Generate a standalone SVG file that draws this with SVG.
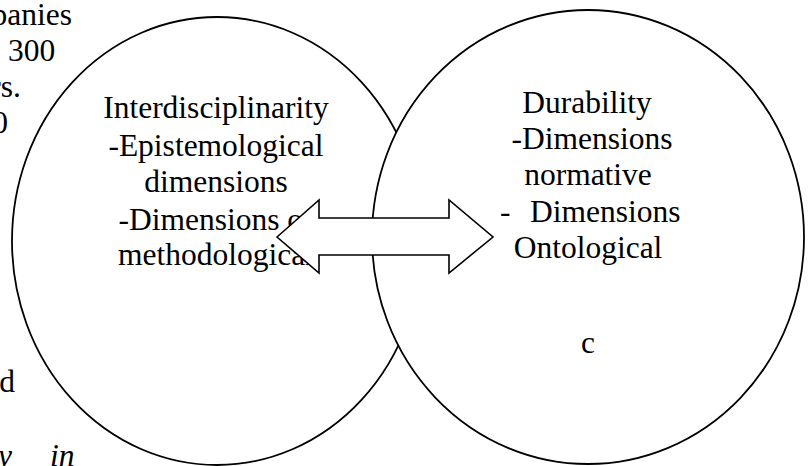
<svg xmlns="http://www.w3.org/2000/svg" width="810" height="466" viewBox="0 0 810 466">
<style>
.t{font-family:"Liberation Serif","Times New Roman",serif;font-size:31.5px;fill:#000}
.m{text-anchor:middle}
.node{fill:#fff;stroke:#000;stroke-width:1.8}
.arrow{fill:#fff;stroke:#000;stroke-width:1.6;stroke-linejoin:miter}
</style>
<rect width="810" height="466" fill="#fff"/>
<g id="margin-text">
<text class="t" x="72" y="25" text-anchor="end">companies</text>
<text class="t" x="8" y="61">300</text>
<text class="t" x="21" y="97" text-anchor="end">years.</text>
<text class="t" x="8" y="133" text-anchor="end">2010</text>
<text class="t" x="15" y="392" text-anchor="end">and</text>
<text class="t" x="12" y="466" text-anchor="end" font-style="italic">y</text>
<text class="t" x="50" y="466" font-style="italic">in</text>
</g>
<g id="node-interdisciplinarity">
<ellipse class="node" cx="217" cy="241" rx="205" ry="224"/>
<text class="t m" x="216" y="118">Interdisciplinarity</text>
<text class="t m" x="216" y="156">-Epistemological</text>
<text class="t m" x="216" y="192">dimensions</text>
<text class="t m" x="216" y="230">-Dimensions of</text>
<text class="t m" x="216" y="265">methodological</text>
</g>
<g id="node-durability">
<ellipse class="node" cx="588" cy="237" rx="216" ry="227"/>
<text class="t m" x="587" y="113">Durability</text>
<text class="t m" x="592" y="149">-Dimensions</text>
<text class="t m" x="588" y="185">normative</text>
<text class="t" y="222"><tspan x="500">-</tspan><tspan x="530">Dimensions</tspan></text>
<text class="t m" x="588" y="258">Ontological</text>
<text class="t m" x="588" y="353" font-size="24">c</text>
</g>
<g id="connectors">
<polygon class="arrow" points="277,237 319,200 319,218 449,218 449,200 493,237 449,273 449,255 319,255 319,273"/>
</g>
</svg>
